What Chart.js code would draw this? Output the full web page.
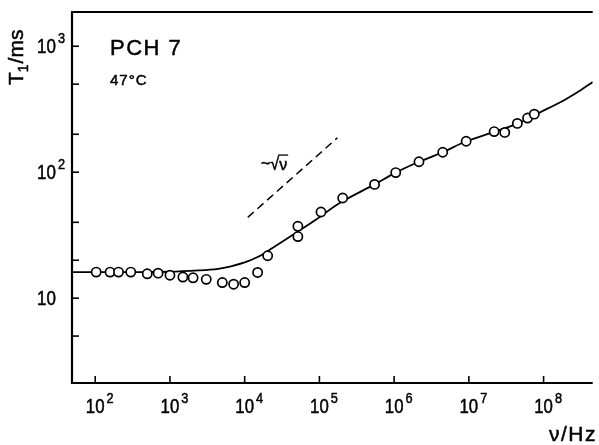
<!DOCTYPE html>
<html>
<head>
<meta charset="utf-8">
<script src="https://cdn.jsdelivr.net/npm/chart.js@4/dist/chart.umd.min.js"></script>
<style>html,body{margin:0;padding:0;background:#fff}canvas{display:block}</style>
</head>
<body>
<canvas id="c" width="599" height="445"></canvas>
<script>
// measured points: frequency (Hz) and T1 (ms)
const freqHz = [103, 158, 205, 299, 497, 694, 1000, 1490, 2040, 3060, 5020, 7110, 10000, 14900, 20300, 51500, 51500, 105000, 205000, 547000, 1050000, 2150000, 4470000, 9200000, 21800000, 30200000, 44500000, 61000000, 75000000];
const t1ms = [16.1, 16.1, 16.1, 16.1, 15.6, 15.8, 15.2, 14.7, 14.5, 14.1, 13.3, 12.9, 13.3, 16.0, 21.7, 37.2, 30.8, 48.3, 62.4, 80.0, 99.3, 121, 144, 176, 210, 207, 244, 269, 289];

// fitted curve
const fitHz = [49, 300, 1000, 2400, 4400, 6550, 10000, 14900, 22100, 50400, 92600, 187000, 547000, 1050000, 2150000, 4470000, 9200000, 22000000, 45000000, 75000000, 92000000, 170000000, 313000000, 454000000];
const fitMs = [16.1, 16.1, 16.2, 16.6, 17.1, 17.9, 19.2, 21.2, 24.4, 33.5, 42.5, 56.9, 80, 99.3, 121, 144, 176, 209, 244, 283, 301, 361, 448, 520];

// ~sqrt(nu) guide line
const guideHz = [11000, 174000];
const guideMs = [43.8, 187.5];

// axes
const xMin = 48.9, xMax = 4.54e8;
const yMin = 2.12, yMax = 1870;
const xTickValues = [1e2, 1e3, 1e4, 1e5, 1e6, 1e7, 1e8];
const xTickExps = ['2', '3', '4', '5', '6', '7', '8'];
const yTickValues = [5, 10, 20, 40, 100, 200, 500, 1000];
const yLabelValues = [10, 100, 1000];
const yLabelExps = ['', '2', '3'];

// texts
const yTitle = {main: 'T', sub: '1', rest: '/ms'};
const xTitle = 'ν/Hz';
const sampleName = 'PCH 7';
const sampleTemp = '47°C';
const guideLabel = {tilde: '~', root: '√', arg: 'ν'};
const guideLabelAt = {hz: 16500, ms: 104};

const toXY = (xs, ys) => xs.map((x, i) => ({x: x, y: ys[i]}));

const FONT = '"Liberation Sans", Arial, Helvetica, sans-serif';

function drawText(ctx, txt, x, y, size, sx, align, spacing) {
  ctx.save();
  ctx.font = size + 'px ' + FONT;
  if (spacing) ctx.letterSpacing = spacing + 'px';
  const w = ctx.measureText(txt).width * sx;
  let x0 = x;
  if (align === 'center') x0 = x - w / 2;
  else if (align === 'right') x0 = x - w;
  ctx.translate(x0, y);
  ctx.scale(sx, 1);
  ctx.textAlign = 'left';
  ctx.textBaseline = 'alphabetic';
  ctx.lineWidth = 0.5;
  ctx.strokeStyle = '#000';
  ctx.fillText(txt, 0, 0);
  ctx.strokeText(txt, 0, 0);
  ctx.restore();
  return w;
}

const framePlugin = {
  id: 'frame',
  afterDraw(chart) {
    const ctx = chart.ctx;
    const a = chart.chartArea;
    const xs = chart.scales.x, ys = chart.scales.y;
    ctx.save();
    ctx.strokeStyle = '#000';
    ctx.fillStyle = '#000';
    ctx.lineCap = 'butt';
    // axis lines
    ctx.lineWidth = 2.2;
    ctx.beginPath();
    ctx.moveTo(a.left, a.top);
    ctx.lineTo(a.left, a.bottom);
    ctx.lineTo(a.right, a.bottom);
    ctx.stroke();
    ctx.lineWidth = 2;
    ctx.beginPath();
    ctx.moveTo(a.left - 1, a.top);
    ctx.lineTo(a.right, a.top);
    ctx.stroke();
    // x ticks
    ctx.lineWidth = 1.6;
    xTickValues.forEach((v, i) => {
      const px = xs.getPixelForValue(v);
      ctx.beginPath();
      ctx.moveTo(px, a.bottom);
      ctx.lineTo(px, a.bottom - 7);
      ctx.stroke();
      const w = drawText(ctx, '10', px, a.bottom + 30, 21, 0.8, 'center');
      drawText(ctx, xTickExps[i], px + w / 2 + 2, a.bottom + 20, 15, 0.85, 'left');
    });
    // y ticks
    ctx.lineWidth = 1.6;
    yTickValues.forEach(v => {
      const py = ys.getPixelForValue(v);
      ctx.beginPath();
      ctx.moveTo(a.left, py);
      ctx.lineTo(a.left + 7, py);
      ctx.stroke();
    });
    yLabelValues.forEach((v, i) => {
      const py = ys.getPixelForValue(v);
      const w = drawText(ctx, '10', 37, py + 7, 20, 0.85, 'left');
      if (yLabelExps[i]) drawText(ctx, yLabelExps[i], 37 + w + 2, py - 3, 15, 0.85, 'left');
    });
    // y title (rotated)
    ctx.save();
    ctx.translate(23, 85);
    ctx.rotate(-Math.PI / 2);
    ctx.lineWidth = 0.5;
    ctx.font = '21px ' + FONT;
    ctx.textBaseline = 'alphabetic';
    ctx.fillText(yTitle.main, 0, 0);
    ctx.strokeText(yTitle.main, 0, 0);
    let off = ctx.measureText(yTitle.main).width;
    ctx.font = '14px ' + FONT;
    ctx.fillText(yTitle.sub, off, 5);
    ctx.strokeText(yTitle.sub, off, 5);
    off += ctx.measureText(yTitle.sub).width + 1;
    ctx.font = '21px ' + FONT;
    ctx.fillText(yTitle.rest, off, 0);
    ctx.strokeText(yTitle.rest, off, 0);
    ctx.restore();
    // x title
    drawText(ctx, xTitle, 597, 441, 21, 1, 'right', 1.5);
    // sample labels
    drawText(ctx, sampleName, 110, 55, 22, 1, 'left', 1.5);
    drawText(ctx, sampleTemp, 110, 85, 15, 1, 'left', 1);
    // guide label
    const gx = xs.getPixelForValue(guideLabelAt.hz);
    const gy = ys.getPixelForValue(guideLabelAt.ms);
    const w1 = drawText(ctx, guideLabel.tilde, gx, gy - 1, 16, 1, 'left');
    const w2 = drawText(ctx, guideLabel.root, gx + w1, gy, 18, 0.9, 'left');
    const w3 = drawText(ctx, guideLabel.arg, gx + w1 + w2, gy, 16, 1, 'left');
    ctx.lineWidth = 1.3;
    ctx.beginPath();
    ctx.moveTo(gx + w1 + w2 - 1, gy - 15);
    ctx.lineTo(gx + w1 + w2 + w3 + 1, gy - 15);
    ctx.stroke();
    ctx.restore();
  }
};

new Chart(document.getElementById('c'), {
  type: 'scatter',
  data: {
    datasets: [
      {
        data: toXY(freqHz, t1ms),
        showLine: false,
        pointStyle: 'circle',
        pointRadius: 4.6,
        pointBorderWidth: 1.7,
        borderColor: '#000',
        backgroundColor: '#fff',
        pointBackgroundColor: '#fff',
        pointBorderColor: '#000'
      },
      {
        data: toXY(fitHz, fitMs),
        showLine: true,
        borderColor: '#000',
        borderWidth: 1.8,
        pointRadius: 0,
        tension: 0.35,
        fill: false
      },
      {
        data: toXY(guideHz, guideMs),
        showLine: true,
        borderColor: '#000',
        borderWidth: 1.5,
        borderDash: [8, 5],
        pointRadius: 0,
        fill: false
      }
    ]
  },
  options: {
    responsive: false,
    devicePixelRatio: 1,
    animation: false,
    layout: {padding: {left: 72, right: 0, top: 12, bottom: 62}},
    plugins: {legend: {display: false}, tooltip: {enabled: false}},
    scales: {
      x: {type: 'logarithmic', min: xMin, max: xMax, display: false},
      y: {type: 'logarithmic', min: yMin, max: yMax, display: false}
    }
  },
  plugins: [framePlugin]
});
</script>
</body>
</html>
